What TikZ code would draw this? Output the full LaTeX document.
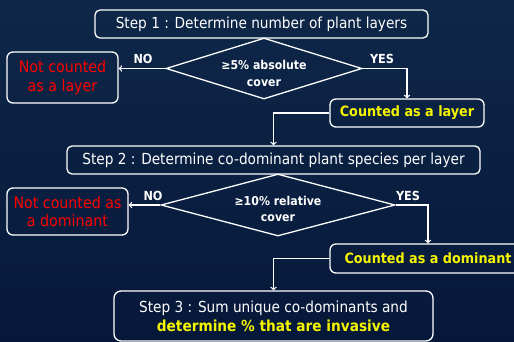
\documentclass[tikz,border=0pt]{standalone}
\usepackage{fontspec}
\setmainfont{DejaVu Sans Condensed}
\usetikzlibrary{shapes.geometric}
\definecolor{bgtop}{HTML}{0E2748}
\definecolor{bgmid}{HTML}{083366}
\definecolor{bgbot}{HTML}{06183A}
\definecolor{hiyellow}{HTML}{F5F500}
\definecolor{nored}{HTML}{FF0000}

\begin{document}
\begin{tikzpicture}[
    x=1pt, y=-1pt,
    every node/.style={text=white, align=center, inner sep=0pt},
    stepbox/.style={rectangle, rounded corners=5pt, draw=white, line width=1.3pt, font=\fontsize{15.2}{19}\selectfont},
    endbox/.style={rectangle, rounded corners=6pt, draw=white, line width=1.3pt},
    decision/.style={diamond, draw=white, line width=1.3pt},
    dectext/.style={font=\fontsize{12.2}{16.5}\selectfont\bfseries},
    lbl/.style={font=\fontsize{12.5}{14}\selectfont\bfseries},
    link/.style={->, draw=white, line width=1.3pt}
]

% background
\shade[top color=bgtop, middle color=bgmid, bottom color=bgbot] (0,0) rectangle (514,342);
\useasboundingbox (0,0) rectangle (514,342);

\node[stepbox, minimum width=333pt, minimum height=28pt] (step1) at (261.5,24) {Step 1 : Determine number of plant layers};
\node[decision, minimum width=196pt, minimum height=61pt] (cover1) at (264,68.5) {};
\node[dectext] (cover1txt) at (264,73.5) {≥5\% absolute\\cover};
\node[endbox, minimum width=111pt, minimum height=51pt, text=nored, font=\fontsize{15.8}{18.5}\selectfont] (notlayer) at (62.5,77.5) {Not counted\\as a layer};
\node[endbox, minimum width=154pt, minimum height=28pt, text=hiyellow, font=\fontsize{14.2}{16}\selectfont\bfseries] (layer) at (407,113) {Counted as a layer};

\node[stepbox, minimum width=413pt, minimum height=28pt] (step2) at (273.5,160) {Step 2 : Determine co-dominant plant species per layer};
\node[decision, minimum width=234pt, minimum height=62pt] (cover2) at (278,205) {};
\node[dectext] (cover2txt) at (278,209) {≥10\% relative\\cover};
\node[endbox, minimum width=121pt, minimum height=47pt, text=nored, font=\fontsize{15.8}{18.5}\selectfont] (notdom) at (67.5,211.5) {Not counted as\\a dominant};
\node[endbox, minimum width=196pt, minimum height=29pt, text=hiyellow, font=\fontsize{14.2}{16}\selectfont\bfseries] (dom) at (428,258.5) {Counted as a dominant};

\node[stepbox, minimum width=319pt, minimum height=50pt, rounded corners=7pt] (step3) at (273.5,316) {Step 3 : Sum unique co-dominants and\\{\color{hiyellow}\bfseries determine \% that are invasive}};

\node[lbl] (no1) at (143,59) {NO};
\node[lbl] (yes1) at (382,59) {YES};
\node[lbl] (no2) at (153,196) {NO};
\node[lbl] (yes2) at (408,196) {YES};

\draw[link] (cover1.west) -- (cover1.west -| notlayer.east);
\draw[link] (cover1.east) -| (layer.north);
\draw[link] (layer.west) -| (step2.north);
\draw[link] (cover2.west) -- (cover2.west -| notdom.east);
\draw[link] (cover2.east) -| (dom.north);
\draw[link] (dom.west) -| (step3.north);

\end{tikzpicture}
\end{document}
